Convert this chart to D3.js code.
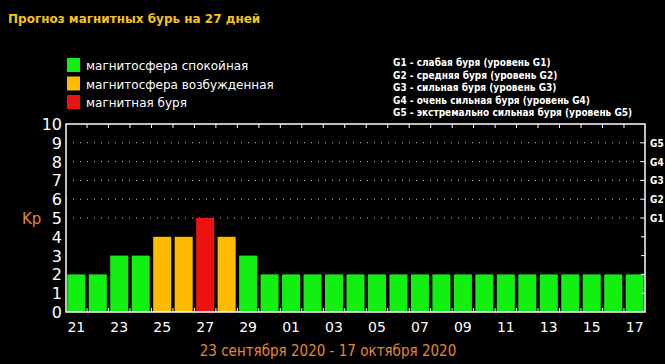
<!DOCTYPE html>
<html>
<head>
<meta charset="utf-8">
<script src="https://cdn.jsdelivr.net/npm/d3@7"></script>
<style>
  body { margin: 0; background: #000; }
  svg { display: block; }
</style>
</head>
<body>
<svg id="chart" width="665" height="364"></svg>
<script>
// Forecast data, 27 days
var days = ['21','22','23','24','25','26','27','28','29','30',
            '01','02','03','04','05','06','07','08','09','10',
            '11','12','13','14','15','16','17'];
var kp = [2,2,3,3,4,4,5,4,3,2,
          2,2,2,2,2,2,2,2,2,2,
          2,2,2,2,2,2,2];
var yTicks = [0,1,2,3,4,5,6,7,8,9,10];
var gLevels = ['G1','G2','G3','G4','G5'];
var legendItems = ['магнитосфера спокойная', 'магнитосфера возбужденная', 'магнитная буря'];
var gNotes = [
  'G1 - слабая буря (уровень G1)',
  'G2 - средняя буря (уровень G2)',
  'G3 - сильная буря (уровень G3)',
  'G4 - очень сильная буря (уровень G4)',
  'G5 - экстремально сильная буря (уровень G5)'
];

var svg = d3.select('#chart');
// plot box (note: "top" is reserved on window, so use plot*)
var plotLeft = 66, plotRight = 645, plotTop = 124, plotBottom = 312;

var x = d3.scaleBand().domain(days).range([plotLeft, plotRight]).paddingInner(0.16).paddingOuter(0.06);
var y = d3.scaleLinear().domain([0, 10]).range([plotBottom, plotTop]);

// Kp level -> colour
var colors = ['#12f012', '#ffbb00', '#ee1111'];
var color = d3.scaleThreshold().domain([4, 5]).range(colors);

// Title
svg.append('text')
    .attr('x', 8).attr('y', 23)
    .attr('fill', '#f2c418')
    .attr('font-family', 'DejaVu Sans, sans-serif')
    .attr('font-weight', 'bold')
    .attr('font-size', 12)
    .text('Прогноз магнитных бурь на 27 дней');

// Legend
var legend = svg.append('g');
legendItems.forEach(function(t, i) {
  legend.append('rect')
      .attr('x', 67).attr('y', 58 + i * 18.5)
      .attr('width', 13).attr('height', 14)
      .attr('fill', colors[i]);
  legend.append('text')
      .attr('x', 86).attr('y', 70 + i * 18.5)
      .attr('fill', '#fff')
      .attr('font-family', 'DejaVu Sans, sans-serif')
      .attr('font-size', 12)
      .text(t);
});

gNotes.forEach(function(t, i) {
  svg.append('text')
      .attr('x', 393).attr('y', 66 + i * 12.5)
      .attr('fill', '#fff')
      .attr('font-family', 'DejaVu Sans Condensed, DejaVu Sans, sans-serif')
      .attr('font-weight', 'bold')
      .attr('font-size', 10)
      .text(t);
});

// Dotted grid lines for G levels
svg.selectAll('line.grid')
    .data([5,6,7,8,9])
    .enter().append('line')
    .attr('class', 'grid')
    .attr('x1', plotLeft).attr('x2', plotRight)
    .attr('y1', function(d) { return y(d); })
    .attr('y2', function(d) { return y(d); })
    .attr('stroke', '#ccc')
    .attr('stroke-width', 1)
    .attr('stroke-dasharray', '1,6');

// Bars
svg.selectAll('rect.bar')
    .data(kp)
    .enter().append('rect')
    .attr('class', 'bar')
    .attr('x', function(d, i) { return x(days[i]); })
    .attr('y', function(d) { return y(d); })
    .attr('width', x.bandwidth())
    .attr('height', function(d) { return y(0) - y(d); })
    .attr('fill', function(d) { return color(d); });

// Frame
svg.append('rect')
    .attr('x', plotLeft).attr('y', plotTop)
    .attr('width', plotRight - plotLeft).attr('height', plotBottom - plotTop)
    .attr('fill', 'none')
    .attr('stroke', '#fff')
    .attr('stroke-width', 1.5);

// Ticks on top and bottom at band boundaries
var bounds = days.slice(1).map(function(d) { return x(d) - x.step() * x.paddingInner() / 2; });
svg.selectAll('line.ttop')
    .data(bounds)
    .enter().append('line')
    .attr('x1', function(d) { return d; }).attr('x2', function(d) { return d; })
    .attr('y1', plotTop).attr('y2', plotTop + 4)
    .attr('stroke', '#fff');
svg.selectAll('line.tbot')
    .data(bounds)
    .enter().append('line')
    .attr('x1', function(d) { return d; }).attr('x2', function(d) { return d; })
    .attr('y1', plotBottom).attr('y2', plotBottom - 4)
    .attr('stroke', '#fff');

// Right-side ticks
svg.selectAll('line.tright')
    .data(yTicks.slice(1, 10))
    .enter().append('line')
    .attr('x1', plotRight).attr('x2', plotRight - 4)
    .attr('y1', function(d) { return y(d); })
    .attr('y2', function(d) { return y(d); })
    .attr('stroke', '#fff');

// Left Kp labels
svg.selectAll('text.ylab')
    .data(yTicks)
    .enter().append('text')
    .attr('x', 62)
    .attr('y', function(d) { return y(d) + 6; })
    .attr('text-anchor', 'end')
    .attr('fill', '#fff')
    .attr('font-family', 'DejaVu Sans, sans-serif')
    .attr('font-size', 16)
    .text(function(d) { return d; });

svg.append('text')
    .attr('x', 22).attr('y', y(5) + 6)
    .attr('fill', '#e8872a')
    .attr('font-family', 'DejaVu Sans, sans-serif')
    .attr('font-size', 15)
    .text('Kp');

// G labels on the right
svg.selectAll('text.glab')
    .data(gLevels)
    .enter().append('text')
    .attr('x', 650)
    .attr('y', function(d, i) { return y(i + 5) + 4; })
    .attr('fill', '#fff')
    .attr('font-family', 'DejaVu Sans Condensed, DejaVu Sans, sans-serif')
    .attr('font-weight', 'bold')
    .attr('font-size', 10)
    .text(function(d) { return d; });

// X labels, every other day
svg.selectAll('text.xlab')
    .data(days.filter(function(d, i) { return i % 2 === 0; }))
    .enter().append('text')
    .attr('x', function(d) { return x(d) + x.bandwidth() / 2; })
    .attr('y', 332)
    .attr('text-anchor', 'middle')
    .attr('fill', '#fff')
    .attr('font-family', 'DejaVu Sans, sans-serif')
    .attr('font-size', 14)
    .text(function(d) { return d; });

// Date range
svg.append('text')
    .attr('x', 328).attr('y', 356)
    .attr('text-anchor', 'middle')
    .attr('fill', '#e8872a')
    .attr('font-family', 'DejaVu Sans Condensed, DejaVu Sans, sans-serif')
    .attr('font-size', 15)
    .text('23 сентября 2020 - 17 октября 2020');
</script>
</body>
</html>
